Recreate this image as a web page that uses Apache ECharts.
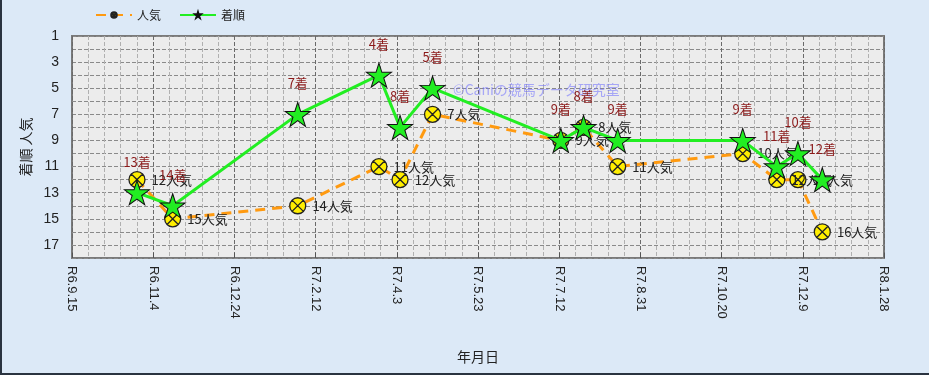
<!DOCTYPE html>
<html>
<head>
<meta charset="utf-8">
<script src="https://cdn.jsdelivr.net/npm/echarts@6/dist/echarts.min.js"></script>
<style>
html,body{margin:0;padding:0;}
body{width:929px;height:375px;overflow:hidden;background:#dce9f7;}
#c{width:927px;height:373px;border-left:2px solid #2a3340;border-bottom:2px solid #2a3340;}
</style>
</head>
<body>
<div id="c"></div>
<script>
// ---- data ----
const startDate = '2024-09-15';
const endDate = '2026-01-28';
const raceDates = ['2024-10-25','2024-11-16','2025-02-01','2025-03-23','2025-04-05','2025-04-25','2025-07-13','2025-07-27','2025-08-17','2025-11-02','2025-11-23','2025-12-06','2025-12-21'];
const popularity = [12,15,14,11,12,7,9,8,11,10,12,12,16];
const finish = [13,14,7,4,8,5,9,8,9,9,11,10,12];
const xTickLabels = ['R6.9.15','R6.11.4','R6.12.24','R7.2.12','R7.4.3','R7.5.23','R7.7.12','R7.8.31','R7.10.20','R7.12.9','R8.1.28'];
const yTickLabels = ['1','3','5','7','9','11','13','15','17'];

function dayOffset(s){
  const a = s.split('-').map(Number), b = startDate.split('-').map(Number);
  return Math.round((Date.UTC(a[0],a[1]-1,a[2]) - Date.UTC(b[0],b[1]-1,b[2]))/86400000);
}
const xMax = dayOffset(endDate);
const popData = raceDates.map((d,i)=>[dayOffset(d), popularity[i]]);
const finData = raceDates.map((d,i)=>[dayOffset(d), finish[i]]);

const font = '"Noto Sans CJK JP","Noto Sans",sans-serif';
const circleX = 'path://M0,8 A8,8 0 1,1 16,8 A8,8 0 1,1 0,8 Z M2.6,2.6 L13.4,13.4 M13.4,2.6 L2.6,13.4';

const chart = echarts.init(document.getElementById('c'));
chart.setOption({
  animation:false,
  backgroundColor:'#dce9f7',
  textStyle:{fontFamily:font},
  legend:{
    left:88, top:4, itemWidth:36, itemHeight:7, itemGap:18,
    textStyle:{fontSize:12,color:'#222',fontFamily:font},
    data:['人気','着順']
  },
  grid:{left:70,right:45,top:36,bottom:115,show:true,backgroundColor:'#ececec',borderColor:'#7a7a7a',borderWidth:2},
  xAxis:{
    type:'value', min:0, max:xMax, interval:50,
    name:'年月日', nameLocation:'middle', nameGap:92,
    nameTextStyle:{fontSize:14,color:'#222',fontFamily:font},
    axisLine:{show:false},
    axisTick:{show:true,length:5,inside:true,lineStyle:{color:'#555'}},
    axisLabel:{rotate:-90,fontSize:13,color:'#222',margin:8,fontFamily:'"Liberation Sans",Arial,sans-serif',
      formatter:v=>xTickLabels[Math.round(v/50)]||''},
    splitLine:{show:true,lineStyle:{color:'#6a6a6a',type:'dashed',width:1}},
    minorTick:{show:false,splitNumber:5},
    minorSplitLine:{show:true,lineStyle:{color:'#b0b0b0',type:'dashed',width:1}}
  },
  yAxis:{
    type:'value', inverse:true, min:1, max:18, interval:1,
    name:'着順 人気', nameLocation:'middle', nameGap:36, nameRotate:90,
    nameTextStyle:{fontSize:14,color:'#222',fontFamily:font},
    axisLine:{show:false},
    axisTick:{show:false},
    axisLabel:{fontSize:14,color:'#222',margin:13,fontFamily:'"Liberation Sans",Arial,sans-serif',
      formatter:v=>yTickLabels.indexOf(String(v))>=0?String(v):''},
    splitLine:{show:true,lineStyle:{color:'#8a8a8a',type:'dashed',width:1}}
  },
  graphic:[{
    type:'text', left:451, top:83, z:1,
    style:{text:'©Caniの競馬データ研究室',fontSize:14,fontFamily:font,fill:'rgba(110,110,255,0.55)'}
  }],
  series:[
    {
      name:'人気', type:'line', data:popData, z:3,
      lineStyle:{color:'#ff9a10',width:3,type:[10,7]},
      itemStyle:{color:'#ffee00',borderColor:'#222',borderWidth:1.3},
      symbol:circleX, symbolSize:16,
      label:{show:true,position:'right',distance:6,fontSize:13,color:'#222',fontFamily:font,
        formatter:p=>p.data[1]+'人気'}
    },
    {
      name:'着順', type:'line', data:finData, z:4,
      lineStyle:{color:'#22ee22',width:3},
      itemStyle:{color:'#22ee22',borderColor:'#111',borderWidth:1},
      symbol:'path://M50,0 L61.8,36.2 L100,36.2 L69.1,58.8 L80.9,95.1 L50,72.7 L19.1,95.1 L30.9,58.8 L0,36.2 L38.2,36.2 Z',
      symbolSize:[25,24],
      label:{show:true,position:'top',distance:12,fontSize:13,color:'#8b1a1a',fontFamily:font,
        formatter:p=>p.data[1]+'着'}
    }
  ]
});
</script>
</body>
</html>
